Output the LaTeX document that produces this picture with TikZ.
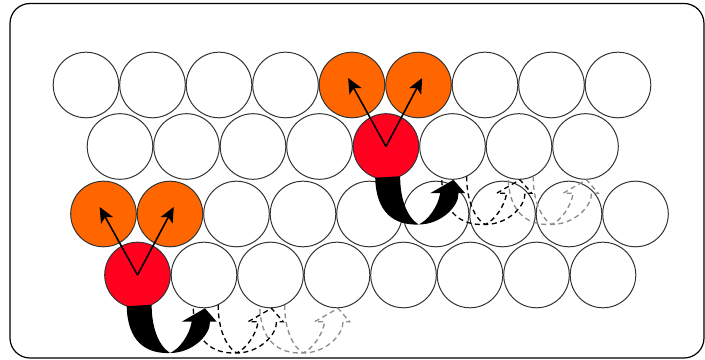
\documentclass[tikz,border=0pt]{standalone}
\usepackage{xcolor}
\usepackage{tikz}
\usetikzlibrary{arrows.meta}

\definecolor{hoporange}{RGB}{255,102,0}
\definecolor{hopred}{RGB}{255,0,30}

% slide below a row, drawn from the centre of the circle it starts under
\tikzset{
  swoop/.pic={
    \path[pic actions] (14.2,29.8) .. controls (14,50) and (20,70) .. (32.5,78)
      .. controls (42,74) and (52,60) .. (54.2,46.7)
      -- (44.2,46.7) -- (67.5,33.3) -- (79.2,46.7) -- (72.5,46.7)
      .. controls (73,60) and (55,78) .. (32.5,78)
      .. controls (8,79) and (-10,66) .. (-10.8,31.2);
  }
}

\begin{document}
\begin{tikzpicture}[x=0.25mm,y=-0.25mm,
  ball/.style={circle,draw=black!80,line width=0.25mm,fill=white,minimum size=16.4mm,inner sep=0pt},
  jump/.style={-{Stealth[length=3.8mm,width=3.4mm,inset=0.9mm]},line width=0.4mm,shorten >=-2mm},
  ghost/.style={draw=#1,line width=0.33mm,dash pattern=on 1.25mm off 0.9mm}]
  \useasboundingbox (0,0) rectangle (705,360);

  % frame
  \draw[line width=0.3mm,rounded corners=5mm] (10,3.5) rectangle (704,358);

  % upper pair of rows
  \foreach \i in {1,2,3,4,7,8,9}
    \node[ball] (a\i) at ({86+66.5*(\i-1)},85) {};
  \foreach \i in {5,6}
    \node[ball,fill=hoporange] (a\i) at ({86+66.5*(\i-1)},85) {};
  \foreach \i in {1,2,3,4,6,7,8}
    \node[ball] (b\i) at ({120+66.5*(\i-1)},146.5) {};
  \node[ball,fill=hopred] (b5) at (386,146.5) {};

  % lower pair of rows
  \foreach \i in {3,...,9}
    \node[ball] (c\i) at ({103.5+66.5*(\i-1)},214) {};
  \foreach \i in {1,2}
    \node[ball,fill=hoporange] (c\i) at ({103.5+66.5*(\i-1)},214) {};
  \foreach \i in {2,...,8}
    \node[ball] (d\i) at ({137.5+66.5*(\i-1)},275) {};
  \node[ball,fill=hopred] (d1) at (137.5,275) {};

  % hops up
  \draw[jump] (b5.center) -- (a5.center);
  \draw[jump] (b5.center) -- (a6.center);
  \draw[jump] (d1.center) -- (c1.center);
  \draw[jump] (d1.center) -- (c2.center);

  % slides along, with the next places dashed
  \pic[ghost=black!45] at (b7.center) {swoop};
  \pic[ghost=black] at (b6.center) {swoop};
  \pic[fill=black] at (b5.center) {swoop};
  \pic[ghost=black!45] at (d3.center) {swoop};
  \pic[ghost=black] at (d2.center) {swoop};
  \pic[fill=black] at (d1.center) {swoop};
\end{tikzpicture}
\end{document}
